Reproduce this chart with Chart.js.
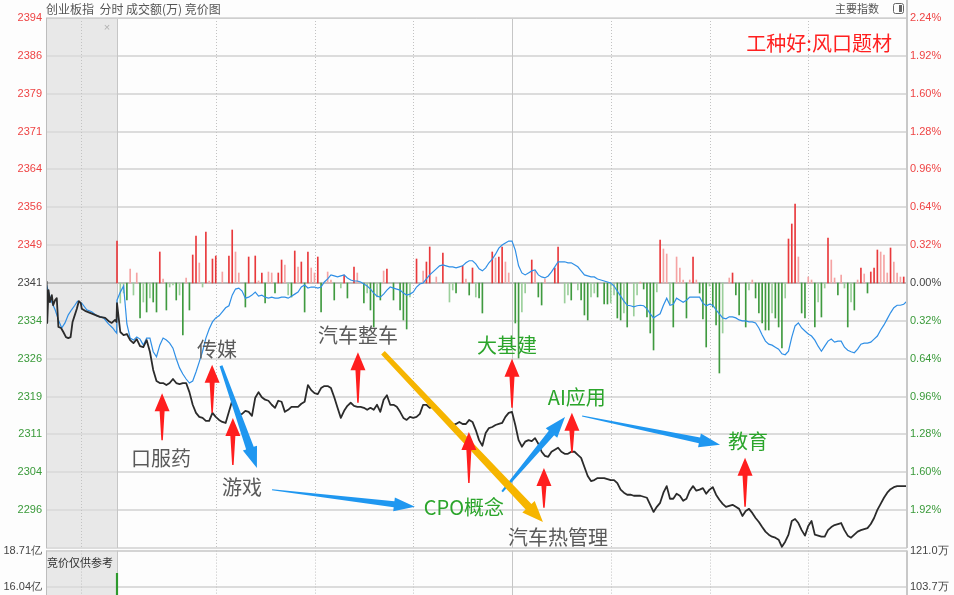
<!DOCTYPE html>
<html>
<head>
<meta charset="utf-8">
<script src="https://cdn.jsdelivr.net/npm/chart.js@4.4.0/dist/chart.umd.min.js"></script>
<style>
  html, body { margin: 0; padding: 0; background: #fdfdfd; }
  #wrap { position: relative; width: 954px; height: 595px; overflow: hidden; }
  #main { position: absolute; left: 0; top: 0; }
  #vol { position: absolute; left: 0; top: 540px; }
</style>
</head>
<body>
<div id="wrap">
  <canvas id="main" width="954" height="595"></canvas>
  <canvas id="vol" width="954" height="67"></canvas>
</div>
<script>
// 创业板指 分时 — minutes after 9:30 (0..240)
const priceMain = [
  2337.2, 2331.5, 2330.9, 2331.1, 2329.9, 2329.3, 2330.1, 2328.7, 2328.5, 2329.9,
  2327.6, 2324.0, 2321.8, 2321.4, 2321.4, 2321.0, 2321.4, 2322.2, 2321.4, 2321.2,
  2321.4, 2321.4, 2319.6, 2317.1, 2315.5, 2314.7, 2314.5, 2313.9, 2313.9, 2315.5,
  2314.7, 2314.1, 2313.7, 2313.5, 2315.7, 2317.9, 2316.3, 2315.1, 2315.3, 2315.9,
  2315.7, 2314.9, 2318.5, 2319.6, 2318.6, 2318.1, 2317.9, 2317.1, 2316.5, 2317.9,
  2317.7, 2315.7, 2316.1, 2316.7, 2316.7, 2316.7, 2317.3, 2317.7, 2321.0, 2320.0,
  2319.4, 2319.2, 2320.4, 2320.8, 2320.8, 2320.4, 2318.6, 2316.5, 2314.5, 2315.9,
  2316.9, 2317.5, 2316.9, 2316.7, 2316.7, 2316.5, 2316.1, 2316.5, 2316.1, 2317.1,
  2315.7, 2318.1, 2319.0, 2317.1, 2317.1, 2316.7, 2315.7, 2314.5, 2314.1, 2314.7,
  2314.5, 2314.7, 2315.3, 2317.1, 2317.1, 2316.5, 2316.7, 2316.5, 2315.7, 2315.1,
  2314.3, 2313.9, 2313.1, 2313.3, 2313.7, 2313.3, 2313.3, 2314.1, 2313.7, 2312.1,
  2310.1, 2309.0, 2311.5, 2312.5, 2312.7, 2313.1, 2313.3, 2313.5, 2314.7, 2315.5,
  2315.7, 2313.1, 2310.1, 2308.8, 2309.8, 2310.1, 2309.9, 2310.5, 2309.4, 2307.8,
  2307.0, 2306.8, 2307.8, 2308.2, 2308.6, 2307.8, 2307.4, 2307.4, 2307.8, 2307.8,
  2307.2, 2306.6, 2304.8, 2303.0, 2302.0, 2302.2, 2302.6, 2302.6, 2302.6, 2302.4,
  2302.2, 2302.2, 2301.6, 2300.3, 2299.7, 2299.3, 2299.3, 2299.1, 2299.1, 2299.1,
  2298.9, 2298.7, 2297.3, 2295.9, 2296.9, 2297.7, 2299.7, 2301.0, 2298.5, 2298.5,
  2299.5, 2299.1, 2298.1, 2298.5, 2300.1, 2301.0, 2300.1, 2300.3, 2300.6, 2299.5,
  2300.3, 2300.8, 2299.3, 2298.3, 2297.5, 2296.9, 2297.1, 2297.3, 2296.9, 2296.5,
  2295.1, 2296.1, 2296.5, 2295.7, 2294.7, 2293.9, 2292.9, 2292.0, 2291.4, 2291.0,
  2290.8, 2290.4, 2289.0, 2290.0, 2291.4, 2294.1, 2294.5, 2293.7, 2292.3, 2291.2,
  2293.1, 2294.1, 2291.4, 2291.2, 2291.0, 2291.0, 2292.3, 2292.9, 2293.3, 2293.5,
  2293.7, 2292.3, 2291.2, 2290.8, 2291.4, 2292.0, 2292.3, 2292.5, 2292.7, 2293.5,
  2294.7, 2296.3, 2297.5, 2298.7, 2299.7, 2300.4, 2300.8, 2301.0, 2301.0, 2301.0, 2301.0
];

// blue lead line, same minutes
const leadMain = [
  2337.8, 2339.4, 2340.6, 2333.1, 2330.3, 2329.9, 2330.5, 2330.1, 2328.9, 2330.3,
  2330.3, 2327.6, 2326.6, 2328.9, 2330.3, 2329.9, 2329.3, 2328.3, 2326.2, 2324.4,
  2323.2, 2322.2, 2321.4, 2321.8, 2323.6, 2325.6, 2327.7, 2330.3, 2332.1, 2333.5,
  2334.3, 2334.7, 2335.5, 2336.3, 2336.7, 2338.8, 2340.0, 2340.2, 2339.6, 2338.2,
  2338.4, 2338.8, 2339.4, 2338.6, 2338.8, 2338.4, 2338.2, 2338.4, 2338.2, 2338.2,
  2338.4, 2338.4, 2338.2, 2338.6, 2339.0, 2339.4, 2340.4, 2340.8, 2340.2, 2340.4,
  2340.4, 2340.2, 2340.4, 2341.4, 2342.0, 2342.8, 2342.6, 2342.4, 2342.6, 2342.8,
  2342.2, 2341.8, 2341.6, 2341.6, 2341.4, 2341.0, 2340.6, 2340.0, 2339.2, 2338.6,
  2338.4, 2339.0, 2339.8, 2340.4, 2340.2, 2340.0, 2339.8, 2339.2, 2338.8, 2339.0,
  2339.4, 2340.4, 2341.0, 2341.2, 2342.0, 2342.8, 2343.4, 2344.0, 2344.6, 2344.8,
  2344.6, 2344.4, 2344.4, 2344.2, 2344.4, 2344.6, 2345.2, 2345.6, 2345.6, 2345.0,
  2344.0, 2343.6, 2344.2, 2345.2, 2345.9, 2346.9, 2348.1, 2348.7, 2349.1, 2349.5,
  2349.5, 2347.7, 2344.6, 2343.2, 2342.8, 2343.2, 2343.6, 2343.8, 2342.8, 2342.4,
  2342.2, 2342.6, 2343.4, 2344.4, 2345.4, 2345.4, 2345.4, 2345.2, 2345.2, 2344.8,
  2344.4, 2343.6, 2342.8, 2342.6, 2342.4, 2342.4, 2342.0, 2341.8, 2341.6, 2341.4,
  2341.2, 2340.6, 2339.6, 2338.6, 2337.6, 2336.8, 2336.7, 2336.5, 2336.7, 2336.8,
  2336.7, 2336.1, 2335.1, 2334.3, 2334.7, 2335.1, 2336.8, 2338.2, 2336.8, 2337.0,
  2338.2, 2337.8, 2337.4, 2337.8, 2338.4, 2338.4, 2338.4, 2338.4, 2337.2, 2336.7,
  2337.0, 2336.8, 2335.9, 2335.1, 2334.3, 2334.1, 2334.5, 2334.5, 2334.3, 2333.9,
  2333.7, 2333.7, 2333.5, 2333.5, 2333.3, 2332.3, 2330.9, 2329.7, 2329.1, 2328.9,
  2328.5, 2328.1, 2327.2, 2327.0, 2327.7, 2330.5, 2332.7, 2333.3, 2332.3, 2331.7,
  2331.1, 2330.7, 2329.9, 2328.7, 2327.7, 2328.7, 2329.7, 2330.1, 2329.5, 2329.7,
  2329.7, 2328.5, 2327.9, 2327.6, 2327.4, 2328.1, 2329.1, 2329.3, 2329.3, 2329.5,
  2330.1, 2330.7, 2331.9, 2332.9, 2334.1, 2335.3, 2336.3, 2336.8, 2336.8, 2337.0, 2337.6
];

// 竞价 (9:15-9:25) slots, placed left of minute 0
const auctionSlotsPrice = [-21.4, -21.2, -20.8, -20.4, -19.8, -19.4, -18.8, -18.3, -17.8, -17.0, -16.3, -15.5, -14.8, -14.1,
  -13.5, -13.0, -12.2, -11.6, -11.0, -10.7, -9.7, -8.2, -6.7, -5.2, -3.6, -2.6, -1.6, -0.6, -0.15];
const auctionPrice = [2341.6, 2333.3, 2339.8, 2337.4, 2338.8, 2336.8, 2337.8, 2338.2, 2332.5, 2332.3, 2331.5, 2330.5, 2330.3, 2330.5,
  2333.5, 2334.5, 2336.1, 2337.6, 2337.2, 2336.1, 2335.7, 2335.3, 2334.9, 2334.5, 2334.3, 2333.7, 2333.3, 2333.9, 2333.5];
const auctionSlotsLead = [-21.4, -20.8, -19.8, -18.8, -17.8, -16.8, -15.8, -14.8, -13.8, -12.8, -12.0, -11.3, -10.7,
  -9.2, -7.7, -6.1, -4.1, -2.6, -1.3, -0.6, -0.1];
const auctionLead = [2340.8, 2339.4, 2337.4, 2335.9, 2333.9, 2332.3, 2333.3, 2334.9, 2335.9, 2336.8, 2337.6, 2337.4, 2337.2,
  2335.9, 2335.5, 2334.7, 2334.3, 2333.1, 2332.3, 2331.7, 2331.3];

// red / green strength bars
const barMinutes = [0, 1, 2, 3, 4, 5, 6, 7, 8, 9, 10, 11, 12, 13, 14, 15, 16, 17, 18, 19, 20, 21, 22, 23, 24, 25, 26, 27, 28, 29,
  30, 32, 34, 35, 36, 37, 39, 40, 42, 43, 44, 45, 46, 47, 48, 49, 50, 51, 52, 53, 54, 55, 56, 57, 58, 59, 60, 61, 62, 64,
  65, 66, 68, 69, 70, 72, 73, 75, 76, 77, 78, 79, 80, 81, 82, 84, 86, 87, 88, 89, 91, 93, 94, 95, 97, 99, 101, 102, 103, 105,
  106, 107, 108, 109, 110, 111, 114, 115, 116, 117, 118, 119, 121, 122, 123, 124, 126, 127, 128, 129, 130, 133, 134, 136, 137, 138, 140, 141, 142, 143,
  144, 145, 146, 148, 149, 150, 151, 152, 153, 154, 155, 157, 158, 159, 160, 161, 162, 163, 164, 165, 166, 167, 168, 169, 170, 171, 172, 173, 174, 175,
  176, 177, 178, 179, 180, 181, 182, 183, 184, 186, 187, 188, 189, 191, 192, 193, 194, 195, 196, 197, 198, 199, 200, 201, 202, 203, 204, 205, 206, 207,
  208, 209, 210, 211, 212, 213, 214, 215, 216, 217, 218, 219, 220, 221, 222, 223, 224, 225, 226, 227, 228, 229, 230, 231, 232, 233, 234, 235, 236, 237,
  238, 239, 240];
const barValues = [8.4, -4.0, -2.0, -3.4, 2.8, -2.4, 2.0, -7.0, -3.8, -5.8, -3.0, -3.8, -5.8, 6.2, 0.8, -5.4, -0.8, -0.4, -3.4, -2.4, -10.4, 1.0, -5.4, 5.6, 9.4, 4.0, -0.8, 10.2, 0.4, 4.8,
  5.4, 2.2, 5.4, 10.6, 6.2, 2.0, -4.8, 5.2, 5.4, 0.4, 2.0, -4.0, 2.2, 2.0, -2.0, 2.0, 4.6, 3.6, -2.4, -2.8, 6.4, 3.2, 4.2, -5.8, 6.2, 3.0, 2.0, 5.2, -5.8, 2.2,
  0.6, -3.4, -1.0, 1.6, -3.0, 3.2, 2.0, -4.0, -2.0, -5.4, -8.8, -2.8, -3.4, 2.4, 2.8, -3.4, -5.4, -7.4, -9.2, -2.8, 4.8, 2.4, 4.2, 7.2, 1.2, 6.0, -3.8, -1.4, -2.0, 3.4,
  0.8, -2.4, 3.0, -2.8, -3.0, -6.0, 6.2, 5.0, 5.2, 7.2, 4.2, 2.0, -8.0, -15.0, -5.8, -2.0, 4.6, 2.4, -2.8, -4.4, 0.8, 3.0, 7.2, -4.0, -2.4, -3.4, -1.4, -3.4, -6.4, -7.4,
  -2.8, -2.0, -2.8, -4.2, -4.2, -4.0, -2.4, -7.0, -7.4, -6.0, -8.8, -6.6, -2.4, 0.2, -1.2, -6.8, -10.0, -13.4, -1.8, 8.6, 6.8, 5.8, -4.2, -8.8, 5.2, 3.0, 0.6, -7.0, 0.6, 5.2,
  0.6, -2.0, -7.2, -12.8, -0.6, -4.8, -8.4, -18.0, -10.0, 1.0, 2.0, -2.4, -6.4, -8.8, -1.4, 0.6, -3.0, -6.0, -8.0, -9.4, -9.4, -6.0, -7.0, -8.8, -13.0, -3.0, 8.8, 11.8, 15.8, 5.2,
  -6.0, -7.0, 1.2, 0.6, -8.8, -3.8, -6.8, -1.0, 9.0, 4.6, 1.0, -2.4, 1.6, -1.0, -8.8, -3.8, -5.4, 0.6, 3.0, 1.8, -2.0, 2.2, 3.0, 6.6, 6.2, 5.6, 2.0, 7.0, 4.2, 2.0,
  1.2, 1.2, 7.0];

// 成交额 (亿) for the bottom panel
const volMinutes = [0];
const volAmount = [17.02];
const volTicks = [16.04, 18.71];
const volLeftLabels = ["16.04亿", "18.71亿"];
const volRightLabels = ["103.7万", "121.0万"];

// axis
const BASE = 2341.2;
const STEP = BASE * 0.0032;
const leftTickLabels = ["", "2296", "2304", "2311", "2319", "2326", "2334", "2341", "2349", "2356", "2364", "2371", "2379", "2386", "2394"];
const rightTickLabels = ["", "1.92%", "1.60%", "1.28%", "0.96%", "0.64%", "0.32%", "0.00%", "0.32%", "0.64%", "0.96%", "1.28%", "1.60%", "1.92%", "2.24%"];
const dottedMinutes = [-10.8, 30, 60, 90, 150, 180, 210];
const solidMinutes = [0, 120];

// notes on the chart
const noteLabels = [
  { text: "口服药", m: 13.4, p: 2306.4, tone: "gray" },
  { text: "传媒", m: 30.4, p: 2328.1, tone: "gray" },
  { text: "游戏", m: 38.0, p: 2300.8, tone: "gray" },
  { text: "汽车整车", m: 73.2, p: 2330.9, tone: "gray" },
  { text: "CPO概念", m: 105.4, p: 2296.7, tone: "green" },
  { text: "大基建", m: 118.5, p: 2328.9, tone: "green" },
  { text: "AI应用", m: 139.7, p: 2318.5, tone: "green" },
  { text: "汽车热管理", m: 134.0, p: 2290.8, tone: "gray" },
  { text: "教育", m: 191.7, p: 2309.9, tone: "green" },
  { text: "工种好:风口题材", m: 213.3, p: 2388.6, tone: "red" }
];
// minute, tip price, tail price
const upArrows = [
  [13.7, 2319.4, 2310.1],
  [28.9, 2325.0, 2315.5],
  [35.2, 2314.5, 2305.2],
  [73.2, 2327.5, 2317.5],
  [106.9, 2311.7, 2301.6],
  [120.0, 2326.2, 2316.5],
  [129.7, 2304.6, 2296.7],
  [138.2, 2315.5, 2307.6],
  [190.8, 2306.6, 2296.9]
];
const flowArrows = [
  { from: [31.6, 2324.8], to: [42.5, 2304.6], color: "#1f97f0", w0: 3, w1: 8, head: 15 },
  { from: [47.1, 2300.3], to: [90.5, 2296.9], color: "#1f97f0", w0: 1, w1: 6, head: 14 },
  { from: [117.0, 2299.9], to: [136.1, 2314.7], color: "#1f97f0", w0: 2, w1: 7, head: 15 },
  { from: [141.3, 2314.9], to: [183.2, 2309.2], color: "#1f97f0", w0: 1, w1: 6, head: 14 },
  { from: [80.8, 2327.4], to: [129.4, 2293.9], color: "#f6b500", w0: 5, w1: 8, head: 17 }
];

const X_MIN = -21.57, X_MAX = 240;
const NUM = '"Liberation Sans", Arial, sans-serif';
const CJK = '"Noto Sans CJK SC", "Noto Sans", sans-serif';
const RED = "#ee4444", GREEN = "#3a9a3a", DARK = "#444444";

function leftColor(i) {
  if (i == 0 || i == 7) return DARK;
  return i > 7 ? RED : GREEN;
}

function barColors() {
  let colrs = [];
  let prev = 0;
  for (let i = 0; i < barValues.length; i++) {
    let v = barValues[i];
    let strong = Math.abs(v) >= prev;
    if (v >= 0) colrs.push(strong ? "#e8393c" : "#f5a3a3");
    else colrs.push(strong ? "#3f9a3f" : "#9bcf9b");
    prev = Math.abs(v);
  }
  return colrs;
}

function drawGuides(chart) {
  const { ctx, chartArea: a, scales: { x } } = chart;
  ctx.save();
  ctx.lineWidth = 1;
  ctx.strokeStyle = "#c2c2c2";
  ctx.setLineDash([1, 2]);
  dottedMinutes.forEach(function (m) {
    let px = Math.round(x.getPixelForValue(m)) + 0.5;
    ctx.beginPath(); ctx.moveTo(px, a.top); ctx.lineTo(px, a.bottom); ctx.stroke();
  });
  ctx.setLineDash([]);
  ctx.strokeStyle = "#c6c6c6";
  solidMinutes.forEach(function (m) {
    let px = Math.round(x.getPixelForValue(m)) + 0.5;
    ctx.beginPath(); ctx.moveTo(px, a.top); ctx.lineTo(px, a.bottom); ctx.stroke();
  });
  ctx.restore();
}

function paintBack(chart) {
  const { ctx, chartArea: a, scales: { x } } = chart;
  ctx.save();
  ctx.fillStyle = "#fdfdfd";
  ctx.fillRect(0, 0, chart.width, chart.height);
  ctx.fillStyle = "#e8e8e8";
  ctx.fillRect(a.left, a.top, x.getPixelForValue(0) - a.left, a.bottom - a.top);
  ctx.restore();
}

function drawBorders(chart, fromTop) {
  const { ctx, chartArea: a } = chart;
  ctx.save();
  ctx.strokeStyle = "#bdbdbd";
  ctx.lineWidth = 1;
  ctx.beginPath(); ctx.moveTo(a.left + 0.5, a.top); ctx.lineTo(a.left + 0.5, a.bottom); ctx.stroke();
  ctx.lineWidth = 2;
  ctx.strokeStyle = "#c8c8c8";
  ctx.beginPath(); ctx.moveTo(a.right, fromTop ? 0 : a.top); ctx.lineTo(a.right, a.bottom); ctx.stroke();
  ctx.restore();
}

function drawArrow(ctx, x1, y1, x2, y2, w0, w1, headW, headL, color) {
  let dx = x2 - x1, dy = y2 - y1;
  let len = Math.hypot(dx, dy);
  let ux = dx / len, uy = dy / len, nx = -uy, ny = ux;
  let bx = x2 - ux * headL, by = y2 - uy * headL;
  ctx.beginPath();
  ctx.moveTo(x1 + nx * w0 / 2, y1 + ny * w0 / 2);
  ctx.lineTo(bx + nx * w1 / 2, by + ny * w1 / 2);
  ctx.lineTo(bx + nx * headW / 2, by + ny * headW / 2);
  ctx.lineTo(x2, y2);
  ctx.lineTo(bx - nx * headW / 2, by - ny * headW / 2);
  ctx.lineTo(bx - nx * w1 / 2, by - ny * w1 / 2);
  ctx.lineTo(x1 - nx * w0 / 2, y1 - ny * w0 / 2);
  ctx.closePath();
  ctx.fillStyle = color;
  ctx.fill();
}

function drawNotes(chart) {
  const { ctx, scales: { x, y } } = chart;
  ctx.save();
  flowArrows.forEach(function (f) {
    drawArrow(ctx, x.getPixelForValue(f.from[0]), y.getPixelForValue(f.from[1]),
      x.getPixelForValue(f.to[0]), y.getPixelForValue(f.to[1]), f.w0, f.w1, f.head, 21, f.color);
  });
  upArrows.forEach(function (u) {
    let px = x.getPixelForValue(u[0]);
    drawArrow(ctx, px, y.getPixelForValue(u[2]), px, y.getPixelForValue(u[1]), 1.5, 5, 15, 18, "#ff1e1e");
  });
  ctx.textAlign = "center";
  ctx.textBaseline = "middle";
  ctx.font = "20px " + CJK;
  noteLabels.forEach(function (n) {
    if (n.tone == "green") ctx.fillStyle = "#2ba52b";
    else if (n.tone == "red") ctx.fillStyle = "#ff2020";
    else ctx.fillStyle = "#5a5a5a";
    ctx.fillText(n.text, x.getPixelForValue(n.m), y.getPixelForValue(n.p));
  });
  ctx.restore();
}

function drawHeader(chart) {
  const { ctx, chartArea: a, scales: { x } } = chart;
  ctx.save();
  ctx.textBaseline = "middle";
  ctx.fillStyle = "#555555";
  ctx.font = "12px " + CJK;
  ctx.textAlign = "left";
  ctx.fillText("创业板指  分时 成交额(万) 竞价图", a.left, 9);
  ctx.font = "11px " + CJK;
  ctx.textAlign = "right";
  ctx.fillText("主要指数", a.right - 28, 9);
  // small toggle icon
  ctx.strokeStyle = "#666";
  ctx.lineWidth = 1;
  ctx.beginPath();
  ctx.roundRect(a.right - 13.5, 3.5, 10, 10, 2);
  ctx.stroke();
  ctx.fillStyle = "#666";
  ctx.fillRect(a.right - 8, 5, 3, 7);
  // top separator
  ctx.strokeStyle = "#cfcfcf";
  ctx.beginPath(); ctx.moveTo(a.left, a.top + 0.5); ctx.lineTo(a.right, a.top + 0.5); ctx.stroke();
  // close mark in the auction area
  ctx.fillStyle = "#b0b0b0";
  ctx.font = "11px " + NUM;
  ctx.textAlign = "center";
  ctx.fillText("×", x.getPixelForValue(0) - 10, a.top + 10);
  ctx.restore();
}

const mainPlugin = {
  id: "mainPanel",
  beforeDraw: function (chart) { paintBack(chart); },
  beforeDatasetsDraw: function (chart) { drawGuides(chart); },
  afterDraw: function (chart) {
    drawNotes(chart);
    drawHeader(chart);
    drawBorders(chart, true);
  }
};

function priceTicks(scale) {
  scale.ticks = leftTickLabels.map(function (t, i) { return { value: BASE + (i - 7) * STEP }; });
}

new Chart(document.getElementById("main"), {
  type: "line",
  data: {
    datasets: [
      {
        type: "bar",
        data: barMinutes.map(function (m, i) { return { x: m, y: barValues[i] }; }),
        backgroundColor: barColors(),
        barThickness: 1,
        yAxisID: "yb",
        order: 3
      },
      {
        data: auctionSlotsLead.map(function (s, i) { return { x: s, y: auctionLead[i] }; })
          .concat(leadMain.map(function (p, i) { return { x: i, y: p }; })),
        borderColor: "#2f8fe6",
        borderWidth: 1.2,
        yAxisID: "y",
        order: 2
      },
      {
        data: auctionSlotsPrice.map(function (s, i) { return { x: s, y: auctionPrice[i] }; })
          .concat(priceMain.map(function (p, i) { return { x: i, y: p }; })),
        borderColor: "#2b2b2b",
        borderWidth: 1.8,
        borderJoinStyle: "round",
        yAxisID: "y",
        order: 1
      }
    ]
  },
  options: {
    responsive: false,
    animation: false,
    devicePixelRatio: 1,
    layout: { autoPadding: false, padding: { top: 18, bottom: 47, left: 0, right: 0 } },
    plugins: { legend: { display: false }, tooltip: { enabled: false } },
    elements: { point: { radius: 0 }, line: { tension: 0 } },
    scales: {
      x: { type: "linear", min: X_MIN, max: X_MAX, offset: false, display: false },
      y: {
        position: "left",
        min: BASE - 7 * STEP,
        max: BASE + 7 * STEP,
        afterBuildTicks: priceTicks,
        afterFit: function (s) { s.width = 46; },
        ticks: {
          autoSkip: false,
          padding: 4,
          font: { family: NUM, size: 11 },
          color: function (c) { return leftColor(c.index); },
          callback: function (v, i) { return leftTickLabels[i]; }
        },
        grid: {
          drawTicks: false,
          lineWidth: 2,
          color: function (c) { return c.index == 7 ? "#bcbcbc" : "#dcdcdc"; }
        },
        border: { display: false }
      },
      y2: {
        position: "right",
        min: BASE - 7 * STEP,
        max: BASE + 7 * STEP,
        afterBuildTicks: priceTicks,
        afterFit: function (s) { s.width = 47; },
        ticks: {
          autoSkip: false,
          padding: 3,
          font: { family: NUM, size: 11 },
          color: function (c) { return leftColor(c.index); },
          callback: function (v, i) { return rightTickLabels[i]; }
        },
        grid: { drawOnChartArea: false, drawTicks: false },
        border: { display: false }
      },
      yb: { display: false, min: -53, max: 53 }
    }
  },
  plugins: [mainPlugin]
});

// bottom amount panel (canvas runs past the page bottom so the plot reaches it)
const volPlugin = {
  id: "volPanel",
  beforeDraw: function (chart) {
    const { ctx, chartArea: a, scales: { x } } = chart;
    ctx.save();
    ctx.fillStyle = "#fdfdfd";
    ctx.fillRect(0, a.top + 1, a.right, chart.height - a.top);
    ctx.fillStyle = "#e8e8e8";
    ctx.fillRect(a.left, a.top + 1, x.getPixelForValue(0) - a.left, a.bottom - a.top);
    ctx.restore();
  },
  beforeDatasetsDraw: function (chart) { drawGuides(chart); },
  afterDraw: function (chart) {
    const { ctx, chartArea: a } = chart;
    ctx.save();
    ctx.fillStyle = "#333333";
    ctx.font = "11px " + CJK;
    ctx.textBaseline = "middle";
    ctx.textAlign = "left";
    ctx.fillText("竞价仅供参考", a.left + 1, a.top + 12);
    ctx.restore();
    drawBorders(chart, false);
  }
};

new Chart(document.getElementById("vol"), {
  type: "bar",
  data: {
    datasets: [{
      data: volMinutes.map(function (m, i) { return { x: m, y: volAmount[i] }; }),
      backgroundColor: "#2e9a2e",
      barThickness: 1.5,
      yAxisID: "v"
    }]
  },
  options: {
    responsive: false,
    animation: false,
    devicePixelRatio: 1,
    layout: { autoPadding: false, padding: { top: 8, bottom: 12, left: 0, right: 0 } },
    plugins: { legend: { display: false }, tooltip: { enabled: false } },
    scales: {
      x: { type: "linear", min: X_MIN, max: X_MAX, offset: false, display: false },
      v: {
        position: "left",
        min: 15.41,
        max: 18.71,
        afterBuildTicks: function (s) { s.ticks = volTicks.map(function (t) { return { value: t }; }); },
        afterFit: function (s) { s.width = 46; },
        ticks: { autoSkip: false, padding: 4, color: DARK, font: { family: NUM, size: 11 }, callback: function (v, i) { return volLeftLabels[i]; } },
        grid: { drawTicks: false, lineWidth: 2, color: function (c) { return c.index == 0 ? "#dcdcdc" : "#d4d4d4"; } },
        border: { display: false }
      },
      v2: {
        position: "right",
        min: 15.41,
        max: 18.71,
        afterBuildTicks: function (s) { s.ticks = volTicks.map(function (t) { return { value: t }; }); },
        afterFit: function (s) { s.width = 47; },
        ticks: { autoSkip: false, padding: 3, color: DARK, font: { family: NUM, size: 11 }, callback: function (v, i) { return volRightLabels[i]; } },
        grid: { drawOnChartArea: false, drawTicks: false },
        border: { display: false }
      }
    }
  },
  plugins: [volPlugin]
});
</script>
</body>
</html>
